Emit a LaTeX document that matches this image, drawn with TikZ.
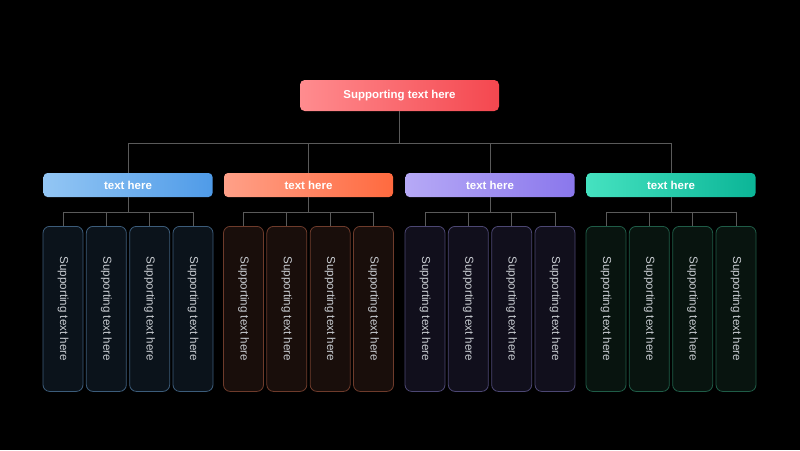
\documentclass[tikz,border=0pt]{standalone}
\usepackage{fontspec}
\setmainfont{Liberation Sans}
\usetikzlibrary{positioning, calc}

% Colours
\definecolor{rootL}{HTML}{FF8C8F}
\definecolor{rootR}{HTML}{F4474F}
\definecolor{blueL}{HTML}{93C6F4}
\definecolor{blueR}{HTML}{4F9BE8}
\definecolor{orangeL}{HTML}{FFA088}
\definecolor{orangeR}{HTML}{FF6A3F}
\definecolor{purpleL}{HTML}{B6A9F6}
\definecolor{purpleR}{HTML}{8A77EC}
\definecolor{greenL}{HTML}{45E2C0}
\definecolor{greenR}{HTML}{0BB597}
\definecolor{blueF}{HTML}{0B131B}
\definecolor{blueB}{HTML}{3C5C7A}
\definecolor{orangeF}{HTML}{190E0B}
\definecolor{orangeB}{HTML}{6E3B2B}
\definecolor{purpleF}{HTML}{110F1C}
\definecolor{purpleB}{HTML}{4C4773}
\definecolor{greenF}{HTML}{08140F}
\definecolor{greenB}{HTML}{1F5C47}
\definecolor{wireC}{HTML}{5A5A5A}
\definecolor{leafT}{HTML}{C9CDD2}

\tikzset{
  rootbox/.style={rounded corners=3.5pt, minimum width=149.25pt, minimum height=23.25pt,
    text=white, font=\fontsize{8.6}{10}\selectfont\bfseries, inner sep=0pt},
  catbox/.style={rounded corners=3pt, minimum width=126.75pt, minimum height=18pt,
    text=white, font=\fontsize{8.6}{10}\selectfont\bfseries, inner sep=0pt},
  leafbox/.style={rounded corners=5pt, minimum width=30pt, minimum height=123.75pt,
    line width=0.6pt, text=leafT, font=\fontsize{8.7}{10}\selectfont, inner sep=0pt},
  wire/.style={draw=wireC, line width=0.6pt}
}

\begin{document}
\begin{tikzpicture}[x=0.75pt, y=-0.75pt]
        % Фон
        \fill[black] (0, 0) rectangle (800, 450);
        \useasboundingbox (0, 0) rectangle (800, 450);

        % Главный блок
        \node[rootbox, left color=rootL, right color=rootR] (root) at (399.5, 95.5) {Supporting text here};

        % Категории
        \foreach \c/\cx/\col in {1/128/blue, 2/308.5/orange, 3/490/purple, 4/671/green} {
            \node[catbox, left color=\col L, right color=\col R] (cat\c) at (\cx, 185) {text here};
            \draw[wire] (root.south) -- ++(0, 32) -| (cat\c.north);

            % Листья
            \foreach \i/\dx in {1/-65, 2/-21.67, 3/21.67, 4/65} {
                \node[leafbox, anchor=north, fill=\col F, draw=\col B] (leaf\c\i) at (\cx + \dx, 226)
                    {\rotatebox{-90}{Supporting text here}};
                \draw[wire] (cat\c.south) -- ++(0, 15) -| (leaf\c\i.north);
            }
        }
\end{tikzpicture}
\end{document}
